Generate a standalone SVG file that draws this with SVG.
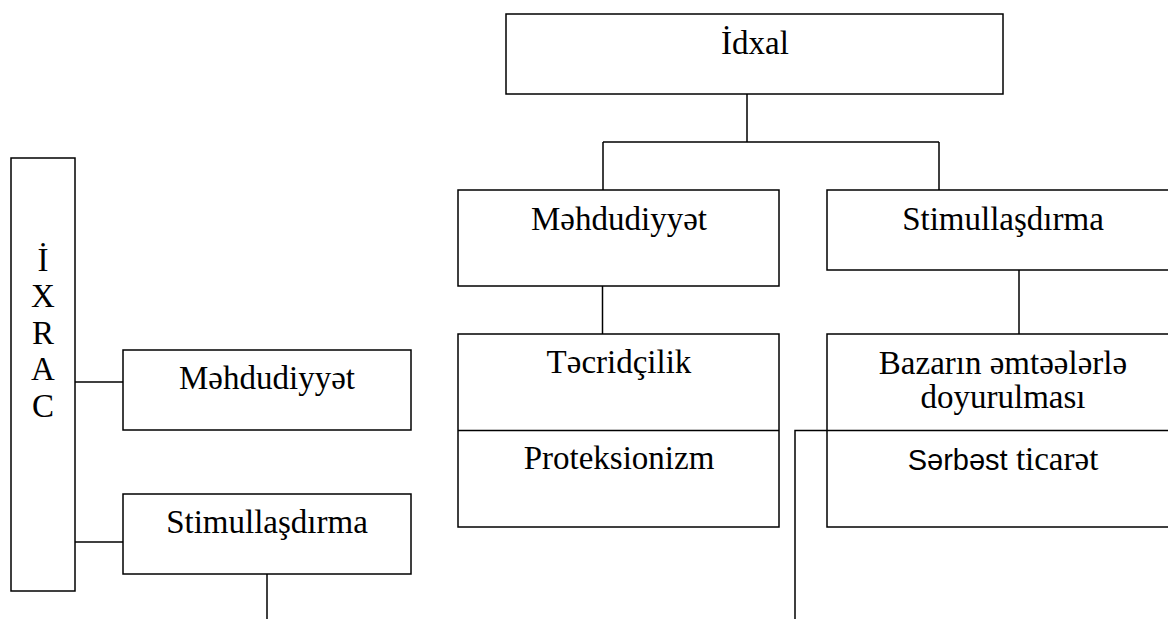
<svg xmlns="http://www.w3.org/2000/svg" width="1168" height="619" viewBox="0 0 1168 619">
<style>
.box{fill:#fff;stroke:#000;stroke-width:1.5}
.ln{fill:none;stroke:#000;stroke-width:1.5}
.t{font-family:"Liberation Serif","Times New Roman",serif;font-size:33px;fill:#000;text-anchor:middle}
.s{font-family:"Liberation Sans",Arial,sans-serif}
</style>
<rect width="1168" height="619" fill="#fff"/>
<g id="connectors">
<path class="ln" d="M747,94 V142 M603,142 H939 M603,142 V190 M939,142 V190"/>
<path class="ln" d="M602.5,286 V334"/>
<path class="ln" d="M1019,270 V334"/>
<path class="ln" d="M75,382 H123"/>
<path class="ln" d="M75,542 H123"/>
<path class="ln" d="M267,574 V619"/>
<path class="ln" d="M795,619 V430.5 H843"/>
</g>
<g id="idxal">
<rect class="box" x="506" y="14" width="497" height="80"/>
<text class="t" x="755" y="54">İdxal</text>
</g>
<g id="mehdudiyyet-idxal">
<rect class="box" x="458" y="190" width="321" height="96"/>
<text class="t" x="619" y="230">Məhdudiyyət</text>
</g>
<g id="stimul-idxal">
<rect class="box" x="827" y="190" width="360" height="80"/>
<text class="t" x="1003" y="230">Stimullaşdırma</text>
</g>
<g id="tecridcilik">
<rect class="box" x="458" y="334" width="321" height="193"/>
<line class="ln" x1="458" y1="430.5" x2="779" y2="430.5"/>
<text class="t" x="619" y="373">Təcridçilik</text>
<text class="t" x="619" y="469">Proteksionizm</text>
</g>
<g id="bazar">
<rect class="box" x="827" y="334" width="360" height="193"/>
<line class="ln" x1="827" y1="430.5" x2="1187" y2="430.5"/>
<text class="t" x="1003" y="374">Bazarın əmtəələrlə</text>
<text class="t" x="1003" y="408">doyurulması</text>
<text class="t" x="1003" y="470"><tspan class="s" font-size="29">Sərbəst</tspan> ticarət</text>
</g>
<g id="ixrac">
<rect class="box" x="11" y="158" width="64" height="433"/>
<text class="t" x="43" y="270.5" font-size="31">İ</text>
<text class="t" x="43" y="307" font-size="31">X</text>
<text class="t" x="43" y="343.5" font-size="31">R</text>
<text class="t" x="43" y="380" font-size="31">A</text>
<text class="t" x="43" y="416.5" font-size="31">C</text>
</g>
<g id="mehdudiyyet-ixrac">
<rect class="box" x="123" y="350" width="288" height="80"/>
<text class="t" x="267" y="389">Məhdudiyyət</text>
</g>
<g id="stimul-ixrac">
<rect class="box" x="123" y="494" width="288" height="80"/>
<text class="t" x="267" y="533">Stimullaşdırma</text>
</g>
</svg>
